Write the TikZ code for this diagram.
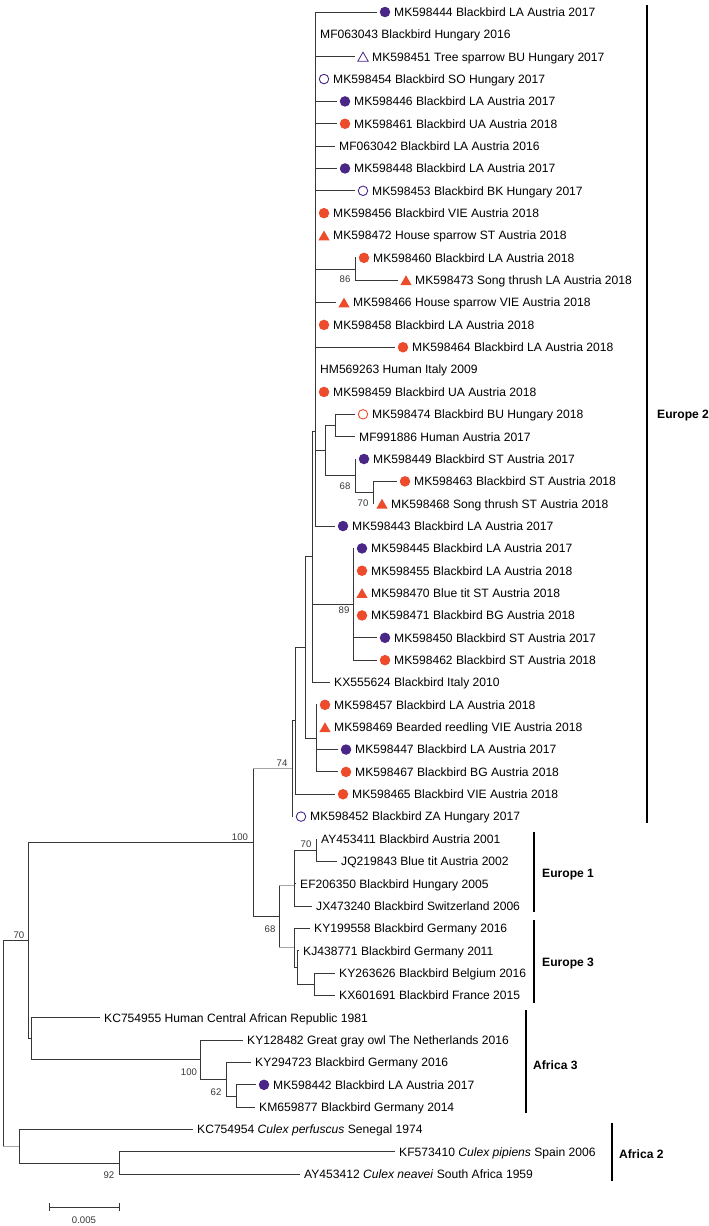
\documentclass[tikz,border=0pt]{standalone}
\usepackage{fontspec}
\setmainfont{Liberation Sans}
\usetikzlibrary{shapes.geometric}
\definecolor{purp}{RGB}{74,38,135}
\definecolor{redc}{RGB}{236,76,44}
\definecolor{brc}{RGB}{55,55,55}
\definecolor{brg}{RGB}{165,165,165}
\tikzset{
  br/.style={draw=brc, line width=0.9pt},
  brl/.style={draw=brg, line width=0.9pt},
  bar/.style={draw=black, line width=2pt},
  lab/.style={anchor=west, inner sep=0pt, text=black, font=\fontsize{12.1pt}{14pt}\selectfont, text height=8.7pt, text depth=0pt},
  clab/.style={anchor=west, inner sep=0pt, text=black, font=\bfseries\fontsize{12.1pt}{14pt}\selectfont, text height=8.7pt, text depth=0pt},
  boot/.style={inner sep=0pt, text=brc, font=\fontsize{9.6pt}{11pt}\selectfont},
  mP/.style={circle, fill=purp, draw=none, minimum size=10.5pt, inner sep=0pt},
  mR/.style={circle, fill=redc, draw=none, minimum size=10.5pt, inner sep=0pt},
  mPo/.style={circle, draw=purp, line width=0.9pt, minimum size=9.5pt, inner sep=0pt},
  mRo/.style={circle, draw=redc, line width=0.9pt, minimum size=9.5pt, inner sep=0pt},
  tR/.style={regular polygon, regular polygon sides=3, fill=redc, draw=none, minimum size=13pt, inner sep=0pt, yshift=-1.6pt},
  tPo/.style={regular polygon, regular polygon sides=3, draw=purp, line width=0.8pt, minimum size=12pt, inner sep=0pt, yshift=-1.5pt},
}
\newcommand\lfn[5]{%
  \coordinate (#1) at (#3,#4);
  \draw[br] (#2) |- (#1);
  \node[lab] (#1t) at ([xshift=4pt]#1) {#5};}
\newcommand\lfm[6]{%
  \coordinate (#1) at (#3,#4);
  \draw[br] (#2) |- (#1);
  \node[#5] (#1m) at ([xshift=8pt]#1) {};
  \node[lab] (#1t) at ([xshift=17pt]#1) {#6};}
\begin{document}
\begin{tikzpicture}[x=1pt,y=-1pt]
\useasboundingbox (0,0) rectangle (709,1226);
\begin{scope}[yshift=1pt]
% internal nodes
\coordinate (root) at (3,1044.5);
\coordinate (A) at (28,941.7);
\coordinate (B) at (253,843.6);
\coordinate (I) at (292,769.75);
\coordinate (R) at (295,721.9);
\coordinate (V) at (305,648.6);
\coordinate (W) at (312,557.75);
\coordinate (X) at (315,432);
\coordinate (L) at (355,270);
\coordinate (N) at (325,451.6);
\coordinate (M) at (335,426.5);
\coordinate (O) at (355,476.75);
\coordinate (P) at (373,493.5);
\coordinate (Z) at (353,605.3);
\coordinate (T) at (316,739.4);
\coordinate (J) at (279,917.5);
\coordinate (E1) at (294,886);
\coordinate (E1a) at (316,851.1);
\coordinate (E3) at (294,948.9);
\coordinate (E3b) at (297,968.5);
\coordinate (E3c) at (314,985.2);
\coordinate (C) at (31,1039.7);
\coordinate (F) at (200,1060.7);
\coordinate (G) at (226,1080.2);
\coordinate (H) at (236,1097);
\coordinate (D) at (19,1147.3);
\coordinate (E) at (119,1164);
% internal branches
\draw[br] (root) |- (A);
\draw[br] (root) -- (root |- D);
\draw[brl] (root |- D) -- (D);
\draw[br] (A) |- (B);
\draw[br] (A) |- (C);
\draw[br] (B) -- (B |- I);
\draw[brl] (B |- I) -- (I);
\draw[br] (B) |- (J);
\draw[br] (I) |- (R);
\draw[br] (R) |- (V);
\draw[br] (V) |- (W);
\draw[br] (V) |- (T);
\draw[br] (W) |- (X);
\draw[br] (W) |- (Z);
\draw[br] (X) |- (L);
\draw[br] (X) |- (N);
\draw[br] (N) |- (M);
\draw[br] (N) |- (O);
\draw[br] (O) |- (P);
\draw[br] (J) -- (J |- E1);
\draw[brl] (J |- E1) -- (E1);
\draw[br] (J) -- (J |- E3);
\draw[brl] (J |- E3) -- (E3);
\draw[br] (E1) |- (E1a);
\draw[br] (E3) |- (E3b);
\draw[br] (E3b) |- (E3c);
\draw[br] (C) |- (F);
\draw[br] (F) |- (G);
\draw[br] (G) |- (H);
\draw[br] (D) |- (E);
% leaves
\lfm{l1}{X}{377}{13}{mP}{MK598444 Blackbird LA Austria 2017}
\lfn{l2}{X}{316}{35.35}{MF063043 Blackbird Hungary 2016}
\lfm{l3}{X}{355}{57.7}{tPo}{MK598451 Tree sparrow BU Hungary 2017}
\lfm{l4}{X}{316}{80.05}{mPo}{MK598454 Blackbird SO Hungary 2017}
\lfm{l5}{X}{337}{102.4}{mP}{MK598446 Blackbird LA Austria 2017}
\lfm{l6}{X}{337}{124.75}{mR}{MK598461 Blackbird UA Austria 2018}
\lfn{l7}{X}{335}{147.1}{MF063042 Blackbird LA Austria 2016}
\lfm{l8}{X}{337}{169.45}{mP}{MK598448 Blackbird LA Austria 2017}
\lfm{l9}{X}{355}{191.8}{mPo}{MK598453 Blackbird BK Hungary 2017}
\lfm{l10}{X}{316}{214.15}{mR}{MK598456 Blackbird VIE Austria 2018}
\lfm{l11}{X}{316}{236.5}{tR}{MK598472 House sparrow ST Austria 2018}
\lfm{l12}{L}{356}{258.85}{mR}{MK598460 Blackbird LA Austria 2018}
\lfm{l13}{L}{398}{281.2}{tR}{MK598473 Song thrush LA Austria 2018}
\lfm{l14}{X}{336}{303.55}{tR}{MK598466 House sparrow VIE Austria 2018}
\lfm{l15}{X}{316}{325.9}{mR}{MK598458 Blackbird LA Austria 2018}
\lfm{l16}{X}{395}{348.25}{mR}{MK598464 Blackbird LA Austria 2018}
\lfn{l17}{X}{316}{370.6}{HM569263 Human Italy 2009}
\lfm{l18}{X}{316}{392.95}{mR}{MK598459 Blackbird UA Austria 2018}
\lfm{l19}{M}{355}{415.3}{mRo}{MK598474 Blackbird BU Hungary 2018}
\lfn{l20}{M}{355}{437.65}{MF991886 Human Austria 2017}
\lfm{l21}{O}{356}{460}{mP}{MK598449 Blackbird ST Austria 2017}
\lfm{l22}{P}{397}{482.35}{mR}{MK598463 Blackbird ST Austria 2018}
\lfm{l23}{P}{374}{504.7}{tR}{MK598468 Song thrush ST Austria 2018}
\lfm{l24}{X}{335}{527.05}{mP}{MK598443 Blackbird LA Austria 2017}
\lfm{l25}{Z}{354}{549.4}{mP}{MK598445 Blackbird LA Austria 2017}
\lfm{l26}{Z}{354}{571.75}{mR}{MK598455 Blackbird LA Austria 2018}
\lfm{l27}{Z}{354}{594.1}{tR}{MK598470 Blue tit ST Austria 2018}
\lfm{l28}{Z}{354}{616.45}{mR}{MK598471 Blackbird BG Austria 2018}
\lfm{l29}{Z}{377}{638.8}{mP}{MK598450 Blackbird ST Austria 2017}
\lfm{l30}{Z}{377}{661.15}{mR}{MK598462 Blackbird ST Austria 2018}
\lfn{l31}{W}{330}{683.5}{KX555624 Blackbird Italy 2010}
\lfm{l32}{T}{317}{705.85}{mR}{MK598457 Blackbird LA Austria 2018}
\lfm{l33}{T}{317}{728.2}{tR}{MK598469 Bearded reedling VIE Austria 2018}
\lfm{l34}{T}{338}{750.55}{mP}{MK598447 Blackbird LA Austria 2017}
\lfm{l35}{T}{338}{772.9}{mR}{MK598467 Blackbird BG Austria 2018}
\lfm{l36}{R}{335}{795.25}{mR}{MK598465 Blackbird VIE Austria 2018}
\lfm{l37}{I}{293}{817.6}{mPo}{MK598452 Blackbird ZA Hungary 2017}
\lfn{l38}{E1a}{317}{839.95}{AY453411 Blackbird Austria 2001}
\lfn{l39}{E1a}{337}{862.3}{JQ219843 Blue tit Austria 2002}
\lfn{l40}{E1}{296}{884.65}{EF206350 Blackbird Hungary 2005}
\lfn{l41}{E1}{312}{907}{JX473240 Blackbird Switzerland 2006}
\lfn{l42}{E3}{310}{929.35}{KY199558 Blackbird Germany 2016}
\lfn{l43}{E3b}{299}{951.7}{KJ438771 Blackbird Germany 2011}
\lfn{l44}{E3c}{335}{974.05}{KY263626 Blackbird Belgium 2016}
\lfn{l45}{E3c}{335}{996.4}{KX601691 Blackbird France 2015}
\lfn{l46}{C}{100}{1018.75}{KC754955 Human Central African Republic 1981}
\lfn{l47}{F}{243}{1041.1}{KY128482 Great gray owl The Netherlands 2016}
\lfn{l48}{G}{251}{1063.45}{KY294723 Blackbird Germany 2016}
\lfm{l49}{H}{256}{1085.8}{mP}{MK598442 Blackbird LA Austria 2017}
\lfn{l50}{H}{255}{1108.15}{KM659877 Blackbird Germany 2014}
\lfn{l51}{D}{193}{1130.5}{KC754954 \textit{Culex perfuscus} Senegal 1974}
\lfn{l52}{E}{395}{1152.85}{KF573410 \textit{Culex pipiens} Spain 2006}
\lfn{l53}{E}{300}{1175.2}{AY453412 \textit{Culex neavei} South Africa 1959}
\end{scope}
% bootstrap values
\node[boot] (b1) at (19,935) {70};
\node[boot] (b2) at (240,837) {100};
\node[boot] (b3) at (282,763) {74};
\node[boot] (b4) at (345,279) {86};
\node[boot] (b5) at (345,486) {68};
\node[boot] (b6) at (363,503) {70};
\node[boot] (b7) at (344,610) {89};
\node[boot] (b8) at (306,844) {70};
\node[boot] (b9) at (270,929) {68};
\node[boot] (b10) at (189,1072) {100};
\node[boot] (b11) at (216,1092) {62};
\node[boot] (b12) at (109,1175) {92};
% clade bars
\coordinate (e2a) at (647,5); \coordinate (e2b) at (647,823);
\draw[bar] (e2a) -- (e2b);
\node[clab] (e2) at (657,414) {Europe 2};
\coordinate (e1a) at (534,832); \coordinate (e1b) at (534,912);
\draw[bar] (e1a) -- (e1b);
\node[clab] (e1) at (542,873) {Europe 1};
\coordinate (e3a) at (534,920); \coordinate (e3b) at (534,1003);
\draw[bar] (e3a) -- (e3b);
\node[clab] (e3) at (542,962) {Europe 3};
\coordinate (a3a) at (526,1010); \coordinate (a3b) at (526,1113);
\draw[bar] (a3a) -- (a3b);
\node[clab] (a3) at (533,1065) {Africa 3};
\coordinate (a2a) at (612,1123); \coordinate (a2b) at (612,1181);
\draw[bar] (a2a) -- (a2b);
\node[clab] (a2) at (619,1154) {Africa 2};
% scale bar
\coordinate (s1) at (49,1207); \coordinate (s2) at (119,1207);
\draw[br] (s1) -- (s2);
\draw[br] ([yshift=4pt]s1) -- ([yshift=-4pt]s1);
\draw[br] ([yshift=4pt]s2) -- ([yshift=-4pt]s2);
\node[boot] (sl) at (84,1220) {0.005};
\end{tikzpicture}
\end{document}
